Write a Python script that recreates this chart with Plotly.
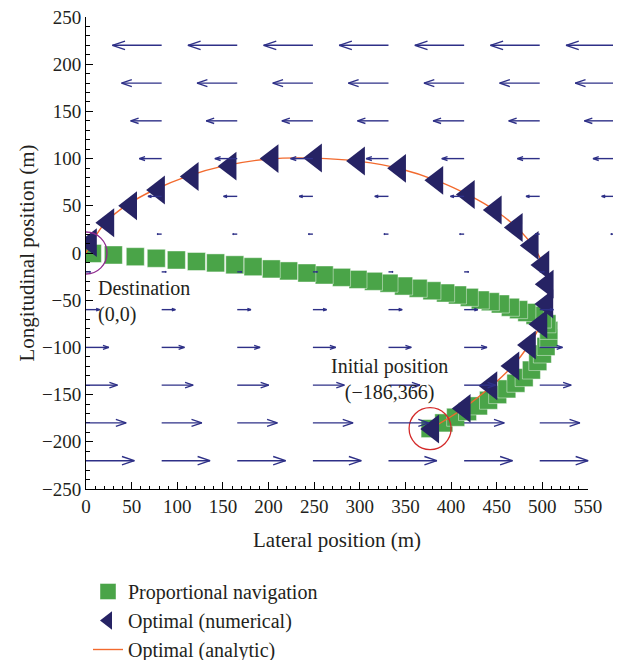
import math
import plotly.graph_objects as go
import plotly.figure_factory as ff

# ---------------- data ----------------
# Proportional navigation (green squares), from initial position to destination
pn_x = [377, 392, 405, 418, 430, 441, 451, 461, 471, 480, 488, 495, 500, 504, 507,
        507, 505, 500, 492, 483, 474, 465, 454, 443, 432, 420, 407, 394, 379, 364,
        348, 332, 315, 298, 280, 261, 242, 222, 203, 183, 163, 142, 121, 99, 77,
        54, 30, 7]
pn_y = [-186, -180, -174, -168, -162, -156, -150, -144, -138, -132, -124, -115, -107, -99, -90,
        -82, -75, -70, -66, -63, -60, -57.5, -54, -51.6, -49.8, -47, -44.5, -42.4, -40, -37.4,
        -35, -32, -30, -28, -25.8, -23.3, -21.2, -19, -16.9, -14.5, -12.5, -10.5, -9, -7.4, -5.6,
        -3.9, -2.1, -0.5]

# Optimal (numerical) - triangles
opt_x = [380, 414.5, 443.7, 467.8, 486, 498.5, 505, 505.4, 500.7, 489, 471.5, 448.5,
         419, 384.5, 343.7, 298.7, 251.6, 204, 158, 116.5, 79.6, 49, 24, 5]
opt_y = [-186.4, -164.6, -140.6, -119.7, -97.5, -75.5, -54, -33, -12.7, 8, 27, 45.5,
         62, 77, 89.7, 97.5, 100.6, 100, 92, 81, 66.7, 50, 32, 11]

# Optimal (analytic) - line
ana_x = [378, 413, 443, 467, 485, 498, 505, 506, 501, 490, 473, 450, 420, 385, 345,
         300, 250, 200, 150, 110, 75, 45, 22, 8, 0]
ana_y = [-186, -165, -142, -120, -98, -76, -54, -33, -13, 7, 26, 44, 61, 76.5, 89,
         97, 100.5, 99.5, 92, 81, 67, 51, 33, 14, 0]

# Wind field (quiver)
wind_x = [0, 82.9, 165.7, 248.6, 331.4, 414.3, 497.1, 580.0]
wind_y = [220, 180, 140, 100, 60, 20, -20, -60, -100, -140, -180, -220]
wind_u = [-54, -44, -34, -24.5, -15, -5, 5, 15, 25, 34.5, 44, 53]

# Marked points
dest_pt = (0, 0)
init_pt = (377, -186)

x_ticks = list(range(0, 551, 50))
y_ticks = list(range(-250, 251, 50))

# ---------------- styling ----------------
FONT = "Liberation Serif"
TXT = "#231f20"
GREEN = "#4aa448"
NAVY = "#262364"
ARROW = "#2e3087"
ORANGE = "#f26a2e"

PAGE_OFF = 8                   # default body margin of the html page
W, H = 621 - PAGE_OFF, 660 - PAGE_OFF
ML, MT = 86 - PAGE_OFF, 17 - PAGE_OFF
MR = 0
inner_h = 472
MB = H - MT - inner_h
X_MAX = 550
inner_w = W - ML - MR          # 535 px
main_w = 502                   # px width of the 0..550 axis
x_dom = main_w / inner_w
X2_MAX = X_MAX * inner_w / main_w

fig = go.Figure()

fig.add_trace(go.Scatter(
    x=pn_x, y=pn_y, mode="markers", name="Proportional navigation",
    marker=dict(symbol="square", size=18, color=GREEN,
                line=dict(color="rgba(255,255,255,0.55)", width=0.8)),
    legendrank=1, hoverinfo="skip"))

fig.add_trace(go.Scatter(
    x=ana_x, y=ana_y, mode="lines", name="Optimal (analytic)",
    line=dict(color=ORANGE, width=1.4, shape="spline"),
    legendrank=3, hoverinfo="skip"))

fig.add_trace(go.Scatter(
    x=opt_x, y=opt_y, mode="markers", name="Optimal (numerical)",
    marker=dict(symbol="triangle-left", size=25, color=NAVY, line=dict(width=0)),
    legendrank=2, hoverinfo="skip"))

# circles around destination and initial position
fig.add_trace(go.Scatter(
    x=[dest_pt[0]], y=[dest_pt[1]], mode="markers", showlegend=False,
    marker=dict(symbol="circle-open", size=42, color="#8e2a8e", line=dict(width=1.3)),
    hoverinfo="skip"))
fig.add_trace(go.Scatter(
    x=[init_pt[0]], y=[init_pt[1]], mode="markers", showlegend=False,
    marker=dict(symbol="circle-open", size=42, color="#d42a2a", line=dict(width=1.3)),
    hoverinfo="skip"))

# quiver (wind field) on an extended overlay axis so arrows can pass the right edge
qx, qy, qu, qv = [], [], [], []
for yy, uu in zip(wind_y, wind_u):
    for xx in wind_x:
        if 0 <= xx <= X2_MAX and 0 <= xx + uu <= X2_MAX:
            qx.append(xx); qy.append(yy); qu.append(uu); qv.append(0)

qfig = ff.create_quiver(qx, qy, qu, qv, scale=1, arrow_scale=0.27, angle=math.pi / 10,
                        line=dict(color=ARROW, width=1.4))
qtrace = qfig.data[0]
qtrace.update(xaxis="x2", yaxis="y", showlegend=False, hoverinfo="skip", name="wind")
fig.add_trace(qtrace)

tickfont = dict(family=FONT, size=19, color=TXT)
axis_common = dict(
    showline=True, linecolor="black", linewidth=1, mirror=False,
    ticks="inside", ticklen=7, tickwidth=1, tickcolor="black",
    showgrid=False, zeroline=False, tickfont=tickfont, automargin=False,
    ticklabeloverflow="allow",
    minor=dict(ticks="inside", ticklen=3.5, tickwidth=1, tickcolor="black", dtick=10, showgrid=False),
)

fig.update_layout(
    width=W, height=H, autosize=False,
    margin=dict(l=ML, r=MR, t=MT, b=MB, pad=0, autoexpand=False),
    paper_bgcolor="white", plot_bgcolor="rgba(0,0,0,0)",
    font=dict(family=FONT, color=TXT, size=21),
    xaxis=dict(domain=[0, x_dom], range=[0, X_MAX], tickmode="array", tickvals=x_ticks,
               title=dict(text="Lateral position (m)", font=dict(family=FONT, size=21, color=TXT), standoff=16),
               anchor="y", **axis_common),
    xaxis2=dict(domain=[0, 1], range=[0, X2_MAX], visible=False, anchor="y", fixedrange=True),
    yaxis=dict(domain=[0, 1], range=[-250, 250], tickmode="array", tickvals=y_ticks,
               title=dict(text="Longitudinal position (m)", font=dict(family=FONT, size=21, color=TXT), standoff=1),
               anchor="x", **axis_common),
    legend=dict(x=2 / inner_w, y=-83 / inner_h, xanchor="left", yanchor="top",
                font=dict(family=FONT, size=20, color=TXT), bgcolor="rgba(0,0,0,0)",
                borderwidth=0, tracegroupgap=0, itemsizing="trace"),
    showlegend=True,
)

ann_font = dict(family=FONT, size=20, color=TXT)
fig.add_annotation(x=11, y=-51.5, xref="x", yref="y", text="Destination<br>(0,0)", showarrow=False,
                   xanchor="left", yanchor="middle", align="left", font=ann_font)
fig.add_annotation(x=333, y=-134.5, xref="x", yref="y", text="Initial position<br>(\u2212186,366)",
                   showarrow=False, xanchor="center", yanchor="middle", align="center", font=ann_font)

fig.write_html("out.html")
